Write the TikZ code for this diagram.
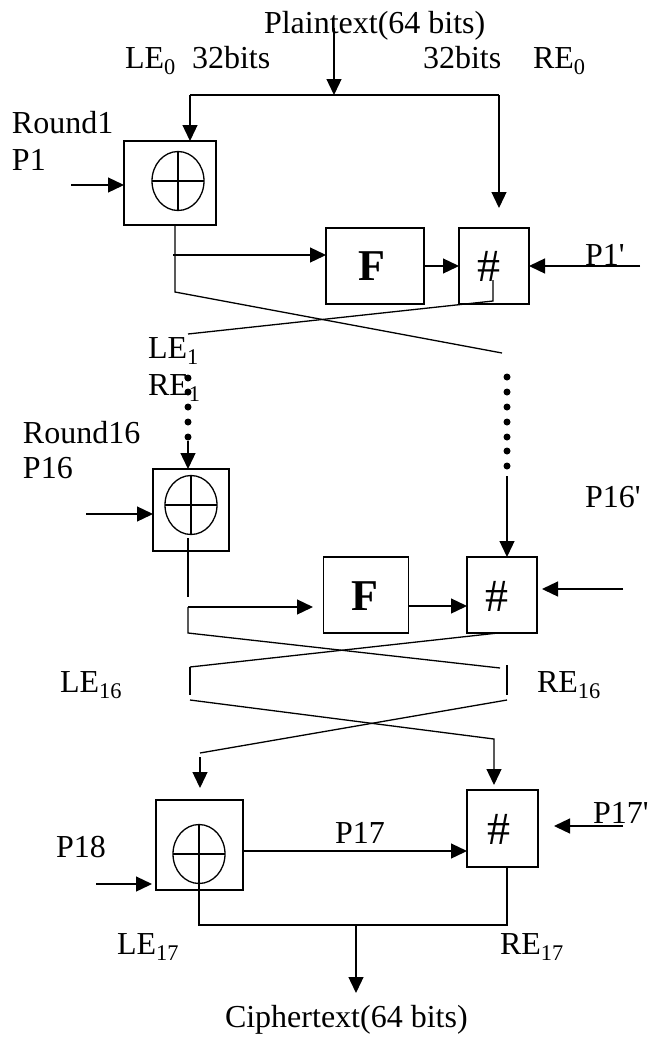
\documentclass[tikz,border=0pt]{standalone}
\usepackage{fontspec}
\setmainfont{Liberation Serif}
\usetikzlibrary{arrows.meta,shapes.geometric}
\begin{document}
\begin{tikzpicture}[x=1pt,y=-1pt,
  line width=1.3pt,
  every node/.style={inner sep=0pt,outer sep=0pt},
  lbl/.style={anchor=base west,font=\fontsize{32}{38}\selectfont},
  box/.style={draw,rectangle,line width=1.3pt},
  sym/.style={font=\fontsize{46}{54}\selectfont},
  symb/.style={font=\fontsize{44}{52}\selectfont\bfseries},
  xr/.style={draw,ellipse,minimum width=52pt,minimum height=59pt,line width=1.3pt},
  arr/.style={-{Triangle[length=16pt,width=15pt]}},
  dot/.style={circle,fill,minimum size=7pt}
]
\useasboundingbox (0,0) rectangle (649,1039);

% ---------- labels ----------
\node[lbl] (plain) at (264,33) {Plaintext(64 bits)};
\node[lbl] (le0) at (125,68) {LE\textsubscript{0}};
\node[lbl] (b32l) at (192,68) {32bits};
\node[lbl] (b32r) at (423,68) {32bits};
\node[lbl] (re0) at (533,68) {RE\textsubscript{0}};
\node[lbl] (r1) at (12,133) {Round1};
\node[lbl] (p1) at (12,170) {P1};
\node[lbl] (p1p) at (585,265) {P1\textquotesingle};
\node[lbl] (le1) at (148,358) {LE\textsubscript{1}};
\node[lbl] (re1) at (148,395) {RE\textsubscript{1}};
\node[lbl] (r16) at (23,443) {Round16};
\node[lbl] (p16) at (23,478) {P16};
\node[lbl] (p16p) at (585,507) {P16\textquotesingle};
\node[lbl] (le16) at (60,692) {LE\textsubscript{16}};
\node[lbl] (re16) at (537,692) {RE\textsubscript{16}};
\node[lbl] (p17) at (335,843) {P17};
\node[lbl] (p17p) at (593,823) {P17\textquotesingle};
\node[lbl] (p18) at (56,857) {P18};
\node[lbl] (le17) at (117,954) {LE\textsubscript{17}};
\node[lbl] (re17) at (500,954) {RE\textsubscript{17}};
\node[lbl] (ciph) at (225,1027) {Ciphertext(64 bits)};

% ---------- boxes ----------
\node[box,minimum width=92pt,minimum height=84pt] (x1) at (170,183) {};
\node[xr] (e1) at (178,181) {};
\draw (e1.north) -- (e1.south) (e1.west) -- (e1.east);
\node[box,minimum width=98pt,minimum height=76pt] (F1) at (375,266) {};
\node[symb] (F1t) at (372,266) {F};
\node[box,minimum width=70pt,minimum height=76pt] (H1) at (494,266) {};
\node[sym] (H1t) at (489,266) {\#};

\node[box,minimum width=76pt,minimum height=82pt] (x2) at (191,510) {};
\node[xr] (e2) at (191,505) {};
\draw (e2.north) -- (e2.south) (e2.west) -- (e2.east);
\node[box,minimum width=85pt,minimum height=76pt] (F2) at (366,595) {};
\node[symb] (F2t) at (365,596) {F};
\node[box,minimum width=70pt,minimum height=76pt] (H2) at (502,595) {};
\node[sym] (H2t) at (497,596) {\#};

\node[box,minimum width=87pt,minimum height=90pt] (x3) at (199.5,845) {};
\node[xr] (e3) at (199,854) {};
\draw (e3.north) -- (e3.south) (e3.west) -- (e3.east);
\node[box,minimum width=71pt,minimum height=77pt] (H3) at (502.5,828.5) {};
\node[sym] (H3t) at (499,829) {\#};

% ---------- round 1 ----------
\coordinate (pt) at (334,28);
\coordinate (sp) at (334,95);
\coordinate (sL) at (190,95);
\coordinate (sR) at (499,95);
\coordinate (rE) at (499,208);
\draw[arr] (pt) -- (sp);
\draw (sL) -- (sR);
\draw[arr] (sL) -- (sL |- x1.north);
\draw[arr] (sR) -- (rE);
\coordinate (p1s) at (71,185);
\draw[arr] (p1s) -- (p1s -| x1.west);
\coordinate (a1) at (175,225);
\coordinate (a2) at (175,292);
\coordinate (b1) at (502,353);
\draw (a1) -- (a2) -- (b1);
\coordinate (h1) at (173,255);
\draw[arr] (h1) -- (h1 -| F1.west);
\draw[arr] (F1) -- (H1);
\coordinate (p1r) at (640,266);
\draw[arr] (p1r) -- (H1);
\coordinate (c1) at (493,280);
\coordinate (c2) at (493,301);
\coordinate (c3) at (188,334);
\draw (c1) -- (c2) -- (c3);

% ---------- dots ----------
\foreach \y [count=\i] in {378,392,407,422,437}
  \node[dot] (dl\i) at (188,\y) {};
\foreach \y [count=\i] in {377,392,407,422,437,451,466}
  \node[dot] (dr\i) at (507,\y) {};
\draw[arr] (dl5) -- (dl5 |- x2.north);
\coordinate (r1s) at (507,476);
\draw[arr] (r1s) -- (r1s |- H2.north);

% ---------- round 16 ----------
\coordinate (p16s) at (86,514);
\draw[arr] (p16s) -- (p16s -| x2.west);
\coordinate (v1) at (188,538);
\coordinate (v2) at (188,597);
\draw (v1) -- (v2);
\coordinate (d1) at (188,607);
\coordinate (d2) at (313,607);
\draw[arr] (d1) -- (d2);
\coordinate (y606) at (0,606);
\draw[arr] (F2.east |- y606) -- (H2.west |- y606);
\coordinate (p16r) at (623,589);
\coordinate (p16e) at (542,589);
\draw[arr] (p16r) -- (p16e);
\coordinate (k1) at (188,633);
\coordinate (k2) at (500,668);
\draw (d1) -- (k1) -- (k2);
\coordinate (k3) at (498,633);
\coordinate (k4) at (190,667);
\draw (k3) -- (k4);
\coordinate (t1) at (190,695);
\coordinate (t2) at (507,665);
\coordinate (t3) at (507,695);
\draw (k4) -- (t1);
\draw (t2) -- (t3);

% ---------- swap ----------
\coordinate (m1) at (190,700);
\coordinate (m2) at (494,739);
\coordinate (m3) at (494,785);
\draw[arr] (m1) -- (m2) -- (m3);
\coordinate (n1) at (507,700);
\coordinate (n2) at (200,753);
\draw (n1) -- (n2);
\coordinate (n3) at (200,757);
\coordinate (n4) at (200,788);
\draw[arr] (n3) -- (n4);

% ---------- output ----------
\coordinate (p18s) at (96,884);
\coordinate (p18e) at (152,884);
\draw[arr] (p18s) -- (p18e);
\coordinate (y851) at (0,851);
\draw[arr] (x3.east |- y851) -- (H3.west |- y851);
\coordinate (p17s) at (623,826);
\coordinate (p17e) at (554,826);
\draw[arr] (p17s) -- (p17e);
\coordinate (o1) at (199,883);
\coordinate (o2) at (199,925);
\coordinate (o3) at (507,925);
\coordinate (o4) at (507,868);
\draw (o1) -- (o2) -- (o3) -- (o4);
\coordinate (o5) at (356,925);
\coordinate (o6) at (356,993);
\draw[arr] (o5) -- (o6);
\end{tikzpicture}
\end{document}
